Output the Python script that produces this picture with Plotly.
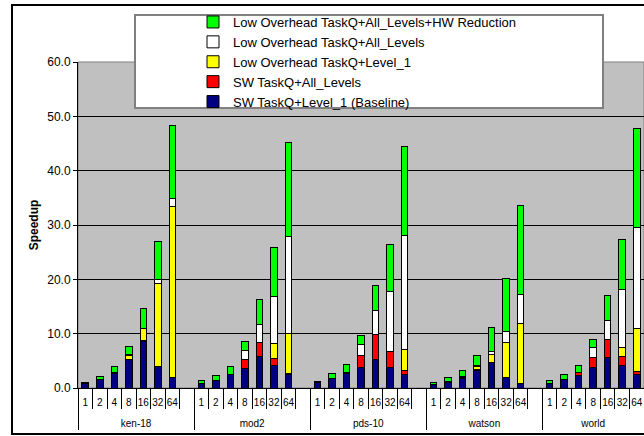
import plotly.graph_objects as go

groups = ["ken-18", "mod2", "pds-10", "watson", "world"]
procs = ["1", "2", "4", "8", "16", "32", "64"]

# segment heights (stacked), 7 values per group, groups in order above
sw_level1 = [0.8, 1.5, 2.7, 5.2, 8.5, 4.0, 2.0,
             0.75, 1.4, 2.45, 3.6, 5.8, 4.2, 2.4,
             1.1, 1.7, 2.6, 3.7, 5.3, 3.8, 2.4,
             0.65, 1.1, 1.8, 3.2, 4.7, 1.85, 0.9,
             0.9, 1.5, 2.35, 3.7, 5.65, 4.1, 2.4]
sw_all = [0.0, 0.0, 0.2, 0.1, 0.2, 0.0, 0.0,
          0.1, 0.05, 0.0, 1.6, 2.6, 1.15, 0.35,
          0.0, 0.1, 0.3, 2.2, 4.5, 2.9, 0.9,
          0.0, 0.0, 0.1, 0.15, 0.0, 0.0, 0.0,
          0.0, 0.05, 0.45, 1.9, 3.25, 1.75, 0.55]
lo_level1 = [0.0, 0.1, 0.0, 0.7, 2.2, 15.3, 31.4,
             0.0, 0.0, 0.0, 0.0, 0.0, 2.85, 7.2,
             0.0, 0.0, 0.0, 0.0, 0.0, 0.0, 3.7,
             0.0, 0.1, 0.3, 0.65, 1.55, 6.55, 11.05,
             0.0, 0.0, 0.0, 0.0, 0.0, 1.65, 8.05]
lo_all = [0.0, 0.0, 0.0, 0.2, 0.1, 0.6, 1.4,
          0.0, 0.0, 0.0, 1.7, 3.2, 8.55, 17.9,
          0.0, 0.0, 0.0, 2.1, 4.55, 11.1, 21.0,
          0.0, 0.0, 0.0, 0.2, 0.4, 2.05, 5.35,
          0.0, 0.0, 0.0, 1.9, 3.6, 10.7, 18.5]
lo_all_hw = [0.2, 0.6, 1.1, 1.4, 3.6, 7.0, 13.5,
             0.55, 0.9, 1.6, 1.75, 4.6, 9.05, 17.25,
             0.1, 0.8, 1.4, 1.6, 4.45, 8.7, 16.4,
             0.3, 0.65, 1.0, 1.8, 4.45, 9.65, 16.3,
             0.4, 0.85, 1.4, 1.5, 4.55, 9.2, 18.2]

series = [
    ("SW TaskQ+Level_1 (Baseline)", sw_level1, "#000080"),
    ("SW TaskQ+All_Levels", sw_all, "#FF0000"),
    ("Low Overhead TaskQ+Level_1", lo_level1, "#FFFF00"),
    ("Low Overhead TaskQ+All_Levels", lo_all, "#FFFFFF"),
    ("Low Overhead TaskQ+All_Levels+HW Reduction", lo_all_hw, "#00FF00"),
]

# build multicategory x with a blank slot between groups
# (inner labels get an empty second line so the group row sits lower)
outer, inner, idx = [], [], []
for gi, g in enumerate(groups):
    for pi, p in enumerate(procs):
        outer.append(g)
        inner.append(p + "<br>\u00a0")
        idx.append(gi * len(procs) + pi)
    if gi < len(groups) - 1:
        outer.append(g)
        inner.append("\u00a0")
        idx.append(None)

fig = go.Figure()
for name, vals, color in series:
    y = [vals[i] if i is not None else None for i in idx]
    fig.add_trace(go.Bar(
        x=[outer, inner], y=y, name=name,
        marker=dict(color=color, line=dict(color="black", width=1)),
        hoverinfo="y+name",
    ))

W, H = 644, 436
L, R, T, B = 78, 0, 62, 48
pw, ph = W - L - R, H - T - B

def px(xp):
    return (xp - L) / pw

def py(yp):
    return (H - B - yp) / ph

font = "Arial, Liberation Sans, sans-serif"

fig.update_layout(
    width=W, height=H,
    margin=dict(l=L, r=R, t=T, b=B, pad=0, autoexpand=False),
    barmode="stack", bargap=0.55,
    paper_bgcolor="white", plot_bgcolor="#C0C0C0",
    font=dict(family=font, size=10, color="black"),
    showlegend=True,
    legend=dict(
        x=px(193), y=py(7), xanchor="left", yanchor="top",
        traceorder="reversed", bgcolor="rgba(0,0,0,0)",
        font=dict(family=font, size=13, color="black"),
        itemclick=False,
    ),
    xaxis=dict(
        type="multicategory", range=[-0.5, len(inner) - 0.5],
        tickson="boundaries", ticks="outside", ticklen=20,
        tickcolor="black", tickwidth=1, tickangle=0,
        ticklabelstandoff=5,
        showline=True, linecolor="black", linewidth=1,
        showdividers=True, dividercolor="black", dividerwidth=1,
        tickfont=dict(family=font, size=10, color="black"),
        showgrid=False,
    ),
    yaxis=dict(
        range=[0, 60], dtick=10, tickformat=".1f",
        ticks="outside", ticklen=4, tickcolor="black",
        showline=True, linecolor="black", linewidth=1,
        showgrid=True, gridcolor="black", gridwidth=1,
        zeroline=False,
        tickfont=dict(family=font, size=12, color="black"),
        title=dict(text="<b>Speedup</b>", standoff=6,
                   font=dict(family=font, size=12, color="black")),
    ),
    shapes=[
        # plot area border
        dict(type="rect", xref="paper", yref="paper", x0=0, x1=1, y0=0, y1=1,
             line=dict(color="#808080", width=1), layer="below"),
        # legend box
        dict(type="rect", xref="paper", yref="paper",
             x0=px(135), x1=px(603), y0=py(108), y1=py(15),
             fillcolor="white", line=dict(color="#808080", width=2), layer="above"),
        # chart border
        dict(type="rect", xref="paper", yref="paper",
             x0=px(12), x1=px(660), y0=py(434), y1=py(5),
             line=dict(color="black", width=2), layer="above"),
    ],
)

fig.write_html("out.html", config={"displayModeBar": False},
               post_script="document.body.style.margin='0';")
